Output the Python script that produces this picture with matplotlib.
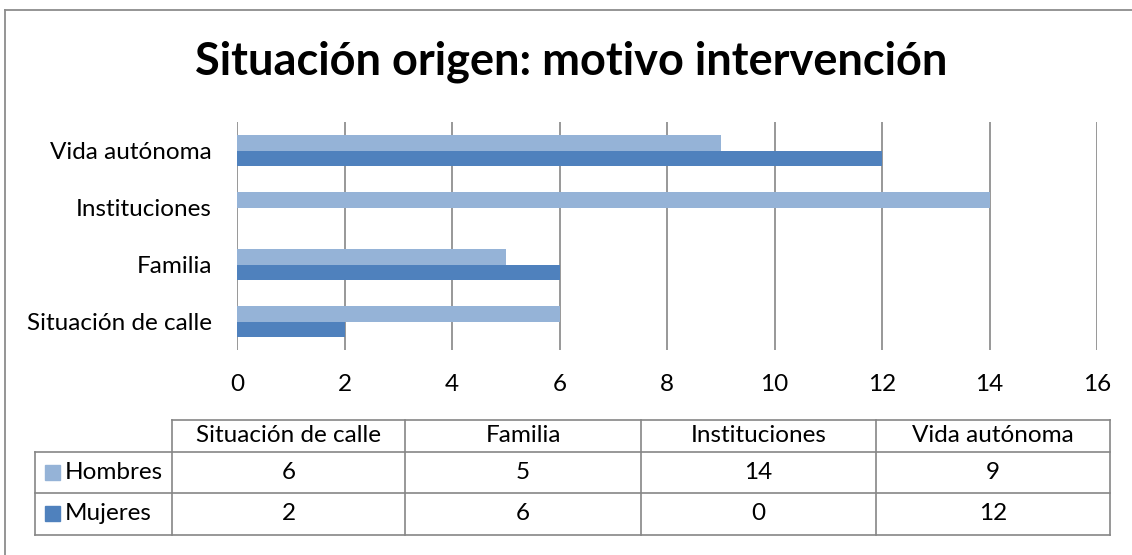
import matplotlib
matplotlib.use("Agg")
import matplotlib.pyplot as plt
from matplotlib.patches import Rectangle
from matplotlib.lines import Line2D

categories = ["Situación de calle", "Familia", "Instituciones", "Vida autónoma"]
series_names = ["Hombres", "Mujeres"]
hombres = [6, 5, 14, 9]
mujeres = [2, 6, 0, 12]
x_ticks = [0, 2, 4, 6, 8, 10, 12, 14, 16]
title = "Situación origen: motivo intervención"

c_h = "#95B3D7"
c_m = "#4F81BD"
grid_c = "#868686"

W, H = 1132, 555
plt.rcParams['font.family'] = ['Lato', 'DejaVu Sans']
fig = plt.figure(figsize=(W / 100, H / 100), dpi=100)

def fx(px):
    return px / W

def fy(py):
    return 1 - py / H

# outer border (top and left only visible)
fig.add_artist(Line2D([fx(5), 1.0], [fy(10), fy(10)], transform=fig.transFigure, color="#8c8c8c", lw=1.3))
fig.add_artist(Line2D([fx(5), fx(5)], [fy(10), 0.0], transform=fig.transFigure, color="#8c8c8c", lw=1.3))

ax = fig.add_axes([fx(237), fy(350), fx(1097) - fx(237), fy(122) - fy(350)])
ys = list(range(len(categories)))
bh = 0.28
ax.barh([y + bh / 2 for y in ys], hombres, height=bh, color=c_h, zorder=3)
ax.barh([y - bh / 2 for y in ys], mujeres, height=bh, color=c_m, zorder=3)
ax.set_xlim(0, 16)
ax.set_ylim(-0.5, len(categories) - 0.5)
ax.set_xticks(x_ticks)
ax.set_xticklabels([str(t) for t in x_ticks], fontsize=17.5)
ax.set_yticks(ys)
ax.set_yticklabels(categories, fontsize=17.5)
ax.tick_params(axis='both', length=0)
ax.tick_params(axis='x', pad=17)
ax.tick_params(axis='y', pad=18)
for s in ax.spines.values():
    s.set_visible(False)
ax.grid(axis='x', color=grid_c, lw=1.2, zorder=0)
ax.set_axisbelow(True)

fig.text(fx(571), fy(62), title, ha='center', va='center', fontsize=32.5, fontweight='bold')

# data table
col_x = [172, 405, 641, 876, 1110]
row_y = [420, 452, 493, 535]
left_x = 35
lc = grid_c
lw = 1.2
def hline(y, x0, x1):
    fig.add_artist(Line2D([fx(x0), fx(x1)], [fy(y), fy(y)], transform=fig.transFigure, color=lc, lw=lw))
def vline(x, y0, y1):
    fig.add_artist(Line2D([fx(x), fx(x)], [fy(y0), fy(y1)], transform=fig.transFigure, color=lc, lw=lw))

hline(row_y[0], col_x[0], col_x[-1])
for y in row_y[1:]:
    hline(y, left_x, col_x[-1])
for x in col_x:
    vline(x, row_y[0], row_y[-1])
vline(left_x, row_y[1], row_y[-1])

fs = 17.5
for i, cat in enumerate(categories):
    cx = (col_x[i] + col_x[i + 1]) / 2
    fig.text(fx(cx), fy((row_y[0] + row_y[1]) / 2), cat, ha='center', va='center', fontsize=fs)
for r, (name, vals, col) in enumerate([(series_names[0], hombres, c_h), (series_names[1], mujeres, c_m)]):
    cy = (row_y[r + 1] + row_y[r + 2]) / 2
    fig.add_artist(Rectangle((fx(45), fy(cy + 7)), fx(15), fy(cy - 8) - fy(cy + 7),
                             transform=fig.transFigure, color=col))
    fig.text(fx(65), fy(cy), name, ha='left', va='center', fontsize=fs)
    for i, v in enumerate(vals):
        cx = (col_x[i] + col_x[i + 1]) / 2
        fig.text(fx(cx), fy(cy), str(v), ha='center', va='center', fontsize=fs)

fig.savefig("out.png", dpi=100)
